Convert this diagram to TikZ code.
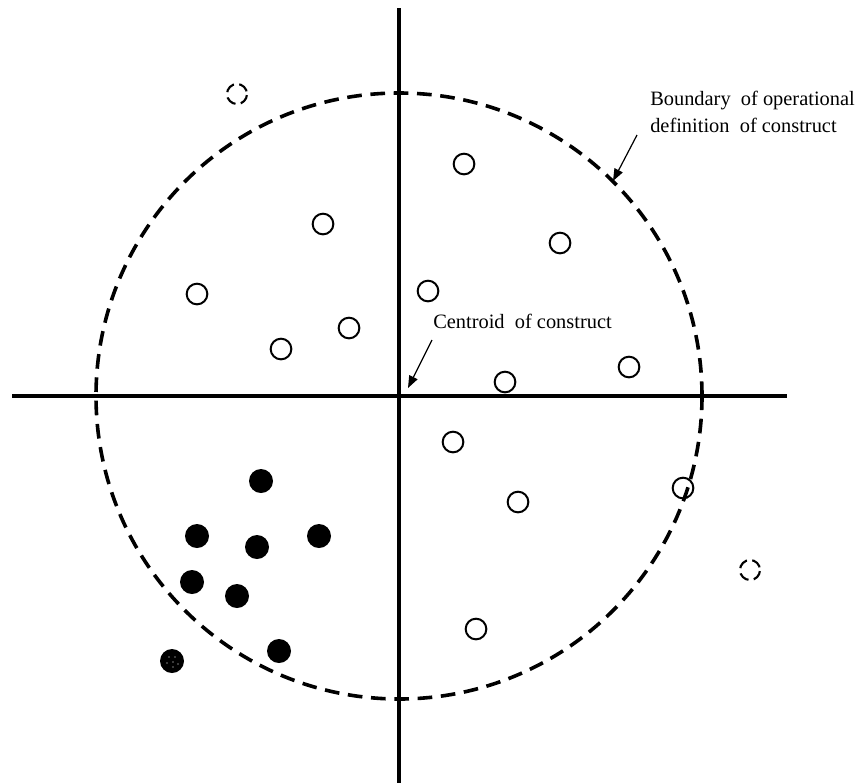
\documentclass[tikz,border=0pt]{standalone}
\usepackage{fontspec}
\setmainfont{Liberation Serif}
\usetikzlibrary{arrows.meta,positioning}
\tikzset{
  axis/.style={line width=3.6pt,line cap=butt},
  boundary/.style={line width=2.7pt,dash pattern=on 11pt off 6.5pt},
  member/.style={circle,draw,line width=1.5pt,minimum size=15.5pt,inner sep=0pt},
  core/.style={circle,fill,minimum size=18pt,inner sep=0pt},
  outlier/.style={circle,draw,line width=1.6pt,minimum size=15pt,inner sep=0pt,
                  dash pattern=on 8pt off 4pt,dash phase=-2pt},
  note/.style={font=\fontsize{15.3}{20.3}\selectfont,inner sep=0pt,align=left},
  pointer/.style={-{Triangle[length=3.2mm,width=2.4mm]},line width=0.9pt}
}
\begin{document}
\begin{tikzpicture}[x=0.75pt,y=-0.75pt]
\useasboundingbox (0,0) rectangle (860,783);
% axes
\coordinate (top) at (399,8);
\coordinate (bottom) at (399,783);
\coordinate (left) at (12,396);
\coordinate (right) at (787,396);
\draw[axis] (top)--(bottom);
\draw[axis] (left)--(right);
% boundary of the construct
\coordinate (centroid) at (399,396);
\draw[boundary] (centroid) circle[radius=227.25pt];
% items inside the boundary
\node[member] (m1) at (464,164) {};
\node[member] (m2) at (560,243) {};
\node[member] (m3) at (323,224) {};
\node[member] (m4) at (197,294) {};
\node[member] (m5) at (428,291) {};
\node[member] (m6) at (349,328) {};
\node[member] (m7) at (281,349) {};
\node[member] (m8) at (505,382) {};
\node[member] (m9) at (629,367) {};
\node[member] (m10) at (453,442) {};
\node[member] (m11) at (518,502) {};
\node[member] (m12) at (683,488) {};
\node[member] (m13) at (476,629) {};
% filled cluster
\node[core] (c1) at (261,481) {};
\node[core] (c2) at (197,536) {};
\node[core] (c3) at (257,547) {};
\node[core] (c4) at (319,536) {};
\node[core] (c5) at (192,582) {};
\node[core] (c6) at (237,596) {};
\node[core] (c7) at (279,651) {};
\node[core] (c8) at (172,661) {};
\foreach \dx/\dy in {-3/-4,3/-4,-5/2,1/1,6/3,1/6}
  \fill[white] ([shift={(\dx,\dy)}]c8.center) circle[radius=0.5pt];
% items outside the boundary
\node[outlier] (o1) at (237,94) {};
\node[outlier] (o2) at (750,570) {};
% labels
\node[note,anchor=base west] (centlabel) at (433,328) {Centroid\ \ of construct};
\node[note,anchor=north west] (boundlabel) at (650,91) {Boundary\ \ of operational\\definition\ \ of construct};
\coordinate (centfrom) at (432,340);
\coordinate (centto) at (408,388);
\coordinate (boundfrom) at (637,135);
\coordinate (boundto) at (613,181);
\draw[pointer] (centfrom)--(centto);
\draw[pointer] (boundfrom)--(boundto);
\end{tikzpicture}
\end{document}
